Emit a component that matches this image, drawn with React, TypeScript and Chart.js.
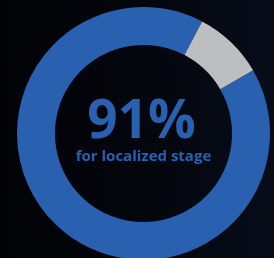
import React, { useEffect, useRef } from "react";
import { Chart, registerables } from "chart.js";

Chart.register(...registerables);

const labels = ["Localized stage", "Other"];
const values = [91, 9];
const colors = ["#2961b0", "#bdbebf"];
const bigText = "91%";
const subText = "for localized stage";

const centerText = {
  id: "centerText",
  afterDraw(chart: any) {
    const { ctx } = chart;
    const meta = chart.getDatasetMeta(0);
    const arc = meta.data[0];
    const cx = arc.x;
    const cy = arc.y;
    ctx.save();
    ctx.fillStyle = "#2961b0";
    ctx.textAlign = "center";
    ctx.textBaseline = "alphabetic";
    ctx.font = "bold 53px 'Open Sans'";
    ctx.fillText(bigText, cx - 2, cy + 4);
    ctx.font = "bold 15px 'Open Sans'";
    ctx.fillText(subText, cx, cy + 27);
    ctx.restore();
  },
};

export default function App() {
  const ref = useRef<HTMLCanvasElement | null>(null);
  useEffect(() => {
    document.body.style.margin = "0";
    const chart = new Chart(ref.current!, {
      type: "doughnut",
      data: {
        labels,
        datasets: [
          {
            data: values,
            backgroundColor: colors,
            borderWidth: 0,
          },
        ],
      },
      options: {
        animation: false,
        responsive: false,
        cutout: "70%",
        rotation: 60,
        layout: { padding: 0 },
        plugins: { legend: { display: false }, tooltip: { enabled: false } },
      },
      plugins: [centerText],
    });
    return () => chart.destroy();
  }, []);
  return (
    <div
      style={{
        position: "relative",
        width: 274,
        height: 258,
        overflow: "hidden",
        background: "linear-gradient(90deg, #020306 0%, #04070e 60%, #070c19 100%)",
      }}
    >
      <canvas
        ref={ref}
        width={253}
        height={253}
        style={{ position: "absolute", left: 17, top: 7, width: 253, height: 253 }}
      />
    </div>
  );
}
